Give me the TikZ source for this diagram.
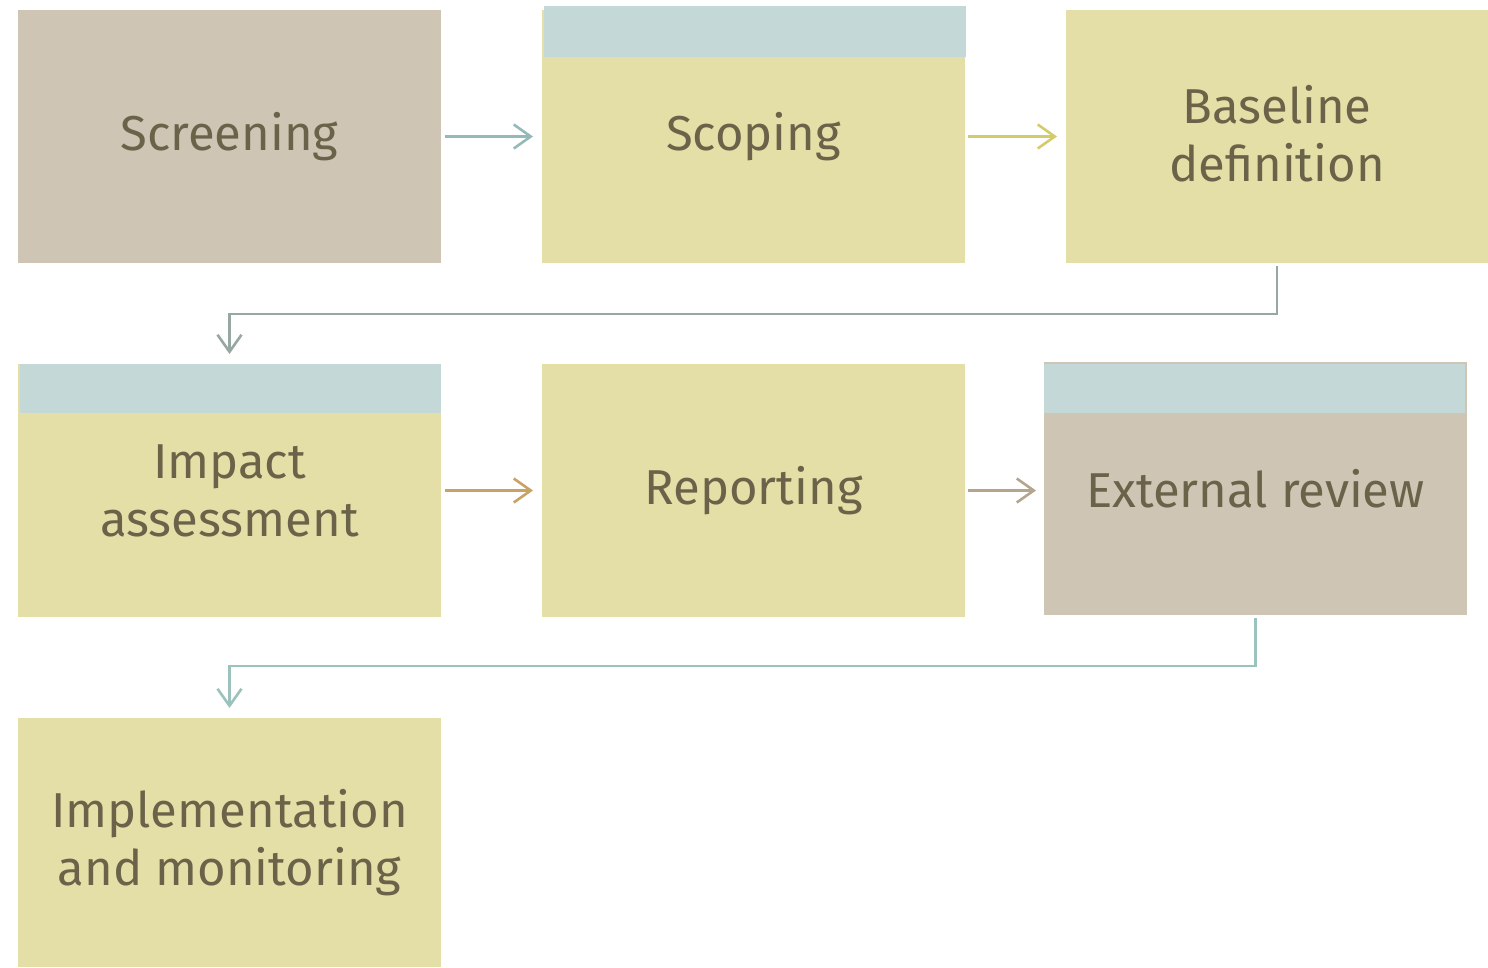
\documentclass[tikz,border=0pt]{standalone}
\usepackage{fontspec}
\setmainfont{Fira Sans}
\usetikzlibrary{arrows.meta}
\definecolor{tanbox}{RGB}{207,197,181}
\definecolor{yelbox}{RGB}{228,223,167}
\definecolor{bandc}{RGB}{196,216,215}
\definecolor{txt}{RGB}{107,99,73}
\definecolor{ar1}{RGB}{149,185,185}
\definecolor{ar2}{RGB}{212,203,107}
\definecolor{ar3}{RGB}{150,168,160}
\definecolor{ar4}{RGB}{201,162,102}
\definecolor{ar5}{RGB}{181,164,142}
\definecolor{ar6}{RGB}{156,194,190}
\tikzset{
  lbl/.style={text=txt, align=center, font=\fontsize{49}{58}\selectfont},
  box/.style={lbl, anchor=north west, minimum width=423pt, minimum height=253pt, inner sep=0pt, outer sep=0pt},
  conn/.style={line width=2.6pt, -{Straight Barb[length=17pt,width=24pt,line width=2.6pt]}},
}
\begin{document}
\begin{tikzpicture}[x=1pt,y=-1pt]
\useasboundingbox (0,0) rectangle (1488,967);
\node[box, fill=tanbox] (s) at (18,10) {Screening};
\node[box, fill=yelbox] (sc) at (542,10) {};
\fill[bandc] (544,6) rectangle (966,57);
\node[lbl] (sct) at (sc.center) {Scoping};
\node[box, fill=yelbox, minimum width=422pt] (b) at (1066,10) {};
\node[lbl] (bt) at ([yshift=3pt]b.center) {Baseline\\definition};
\node[box, fill=yelbox] (ia) at (18,364) {};
\fill[bandc] (20,364) rectangle (441,413);
\node[lbl] (iat) at (ia.center) {Impact\\assessment};
\node[box, fill=yelbox] (r) at (542,364) {Reporting};
\node[box, fill=tanbox] (er) at (1044,362) {};
\fill[bandc] (1044,364) rectangle (1465,413);
\node[lbl] (ert) at (er.center) {External review};
\node[box, fill=yelbox, minimum height=249pt] (im) at (18,718) {Implementation\\and monitoring};
\draw[conn, ar1] ([xshift=4pt]s.east) -- ([xshift=-9pt]sc.west);
\draw[conn, ar2] ([xshift=3pt]sc.east) -- ([xshift=-9pt]b.west);
\draw[conn, ar3] ([yshift=-3pt]b.south) -- ++(0,48) -| ([yshift=10pt]ia.north);
\draw[conn, ar4] ([xshift=4pt]ia.east) -- ([xshift=-9pt]r.west);
\draw[conn, ar5] ([xshift=3pt]r.east) -- ([xshift=-8pt]er.west |- r.east);
\draw[conn, ar6] ([yshift=-3pt]er.south) -- ++(0,48) -| ([yshift=10pt]im.north);
\end{tikzpicture}
\end{document}
